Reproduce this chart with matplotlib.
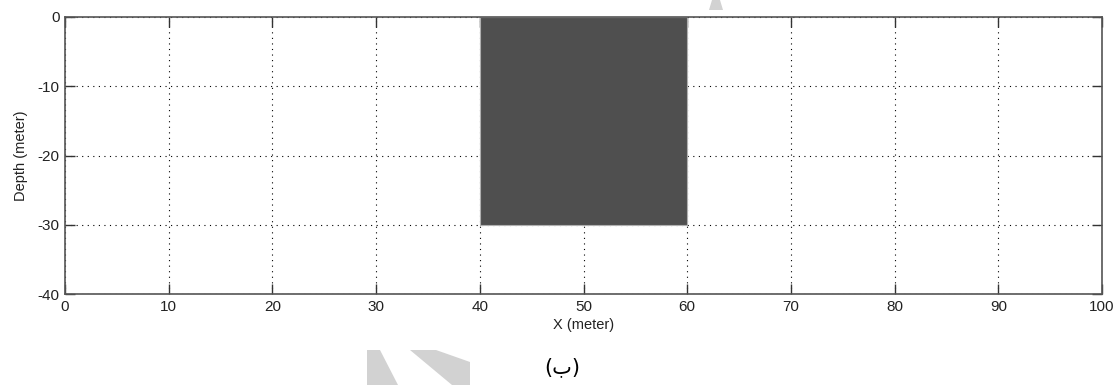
import matplotlib.pyplot as plt
from matplotlib.patches import Polygon, Rectangle

# anomaly block (meters)
BLOCK_X = [40, 60]
BLOCK_DEPTH = [-30, 0]

X_TICKS = [0, 10, 20, 30, 40, 50, 60, 70, 80, 90, 100]
Y_TICKS = [-40, -30, -20, -10, 0]

plt.rcParams["font.family"] = ["Liberation Sans", "DejaVu Sans"]
plt.rcParams["axes.unicode_minus"] = False

W, H = 1117, 385
fig = plt.figure(figsize=(W / 100, H / 100), dpi=100)
ax = fig.add_axes([65 / W, 1 - 294 / H, (1102 - 65) / W, (294 - 17) / H])

ax.add_patch(Rectangle((BLOCK_X[0], BLOCK_DEPTH[0]), BLOCK_X[1] - BLOCK_X[0],
                       BLOCK_DEPTH[1] - BLOCK_DEPTH[0],
                       facecolor="#4f4f4f", edgecolor="#b0b0b0", linewidth=0.8, zorder=2))

ax.set_xlim(X_TICKS[0], X_TICKS[-1])
ax.set_ylim(Y_TICKS[0], Y_TICKS[-1])
ax.set_xticks(X_TICKS)
ax.set_yticks(Y_TICKS)
ax.grid(True, color="black", linestyle=(0, (1, 4)), linewidth=0.8, zorder=1)
ax.set_axisbelow(True)
ax.tick_params(direction="in", length=7, width=1, color="#333333",
               top=True, right=True, labelsize=11, labelcolor="#222222")
ax.tick_params(axis="x", pad=4)
ax.tick_params(axis="y", pad=4)
for s in ax.spines.values():
    s.set_color("#555555")
    s.set_linewidth(1.2)

ax.set_xlabel("X (meter)", fontsize=10.5, color="#222222", labelpad=3)
ax.set_ylabel("Depth (meter)", fontsize=10.5, color="#222222", labelpad=7)

fig.text(562 / W, 1 - 367 / H, "(ب)", ha="center", va="center",
         fontsize=15, family="DejaVu Sans", color="black")

# faint watermark pieces outside the axes
wm = "#d2d2d2"
for pts in (
    [(367, 350), (380, 350), (398, 385), (367, 385)],
    [(410, 350), (436, 350), (470, 362), (470, 385), (452, 385)],
    [(712, 0), (720, 0), (723, 10), (709, 10)],
):
    fig.patches.append(Polygon([(x / W, 1 - y / H) for x, y in pts], closed=True,
                               transform=fig.transFigure, facecolor=wm,
                               edgecolor="none", zorder=0))

fig.savefig("out.png", dpi=100)
